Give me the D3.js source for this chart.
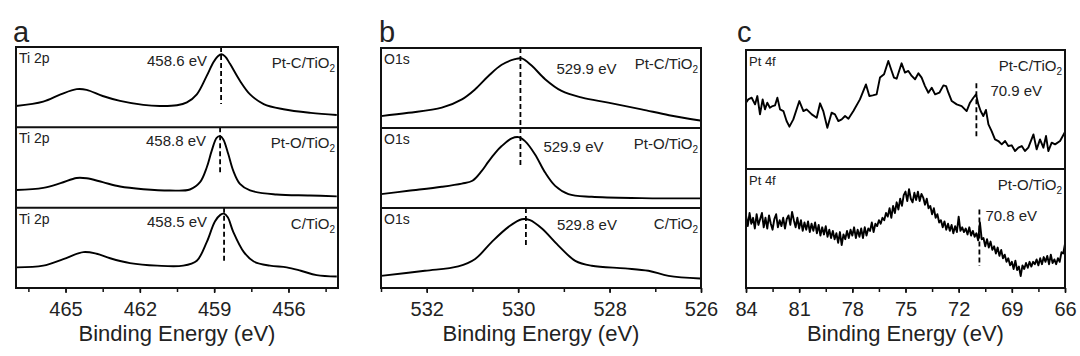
<!DOCTYPE html>
<html><head><meta charset="utf-8">
<script src="https://cdn.jsdelivr.net/npm/d3@7"></script>
<style>
body{margin:0;background:#fff}
svg{display:block}
text{font-family:"Liberation Sans",Arial,sans-serif;fill:#222}
</style>
</head><body>
<svg id="chart" width="1080" height="356"></svg>
<script>
// ---------------- DATA ----------------
// Panel a: Ti 2p (binding energy eV, intensity a.u.)
const tiPtC_eV = [467.0,465.9,465.2,464.55,464.15,463.5,462.8,461.86,461.2,460.5,460.1,459.7,459.3,459.03,458.85,458.7,458.55,458.36,457.96,457.55,457.0,456.2,455.1,454.05];
const tiPtC_I  = [26.6,32,41,47.5,46.7,39,33,28,26.6,27.5,31,41,64,81,88.5,91,88,79,58,41,29,22.5,18,15.4];
const tiPtO_eV = [467.0,465.9,465.2,464.55,464.15,463.5,462.8,461.86,460.78,459.98,459.57,459.3,459.1,458.9,458.76,458.63,458.43,458.23,457.96,457.55,456.48,455.13,454.05];
const tiPtO_I  = [22,24.7,30.5,37,36.6,31.7,26.3,23,21.4,22.6,31.7,50,70.7,87,89,85,66.7,46,29.6,21.4,16.4,15.2,14];
const tiC_eV   = [466.97,465.9,465.09,464.28,463.74,463.2,462.4,461.3,460.25,459.7,459.3,458.97,458.75,458.6,458.45,458.23,457.8,457.4,456.75,456.07,455.5,454.86,454.05];
const tiC_I    = [25.7,27.8,36,44.7,42.6,37,31,27.8,27.8,34,57,82.7,91,92.5,88,70,44.7,33,27.8,25.7,21.5,16,14.3];

// Panel b: O 1s
const oPtC_eV = [533,532.4,531.67,531.23,530.94,530.65,530.36,530.07,529.92,529.7,529.41,529.05,528.6,528.03,527.3,526.7,526.02];
const oPtC_I  = [14.9,19,25.4,35.8,48.4,65,79,86,87,77.7,61,46.3,38,31.7,23.3,16,9.4];
const oPtO_eV = [533,532.4,531.67,531.23,531.0,530.8,530.65,530.5,530.36,530.14,529.99,529.85,529.63,529.41,529.19,528.9,528.39,527.3,526.02];
const oPtO_I  = [17.4,21.5,26.5,30.5,34,46,58,69,77.4,87,88.6,83.6,67,44.3,27.7,17.4,14,12.4,12];
const oC_eV   = [533,532.04,531.31,530.94,530.58,530.21,529.92,529.74,529.48,529.12,528.75,528.39,527.66,527.15,526.71,526.02];
const oC_I    = [15.2,21.5,27,36.3,57.4,76.4,86,84.8,74.3,53,34,27.8,24.5,21.5,15.2,11.8];

// Panel c: Pt 4f
const ptPtC_eV = [84.00,83.87,83.68,83.49,83.36,83.21,83.06,82.93,82.80,82.65,82.50,82.36,82.23,82.08,81.89,81.71,81.55,81.33,80.99,80.76,80.58,80.29,80.01,79.82,79.64,79.41,79.17,78.98,78.79,78.60,78.41,78.22,77.94,77.57,77.23,77.04,76.85,76.63,76.44,76.21,75.97,75.78,75.65,75.50,75.22,75.03,74.84,74.65,74.46,74.27,74.09,73.90,73.71,73.52,73.33,73.09,72.86,72.71,72.58,72.39,72.11,71.83,71.55,71.36,71.17,71.02,70.89,70.76,70.61,70.46,70.32,70.14,69.95,69.76,69.57,69.38,69.20,69.01,68.82,68.63,68.44,68.26,68.07,67.78,67.60,67.41,67.22,67.07,66.94,66.75,66.56,66.28,66.00];
const ptPtC_I  = [55.7,58.5,59.9,54.3,61.3,45.9,58.5,50.1,55.7,51.5,52.9,53.5,59.9,50.1,48.7,40.3,35.6,41.7,57.1,48.7,50.1,45.9,43.1,55.2,48.7,34.7,47.3,45.9,40.3,41.7,44.5,42.3,48.7,58.5,71.1,61.3,61.9,62.7,76.8,79.6,90.8,82.4,76.8,75.9,88.8,81.0,82.4,78.2,75.4,80.4,76.8,69.7,64.1,68.3,62.7,64.1,70.3,69.7,64.1,57.1,54.3,52.9,48.7,55.7,59.9,62.7,54.3,48.7,44.5,49.6,37.5,31.9,24.9,23.5,20.7,23.5,19.3,19.9,15.1,17.9,19.3,15.1,17.9,29.1,16.5,24.9,17.9,27.7,15.1,22.1,20.7,23.5,31.1];
// Pt-O/TiO2: 0.1 eV steps from 84.0 eV down to 66.0 eV
const ptPtO_start = 84.0, ptPtO_step = 0.1;
const ptPtO_I = [
 61,52,63,54,59,50,62,53,58,63,
 51,59,50,61,54,49,58,62,51,57,
 52,59,50,58,61,53,64,57,51,59,
 50,57,48,55,49,56,47,54,48,55,
 46,53,44,51,45,52,43,49,42,48,
 41,46,38,47,36,45,41,48,42,49,
 44,51,42,49,43,50,42,51,44,50,
 48,55,47,54,52,57,54,59,57,63,
 60,67,59,69,63,72,66,75,69,78,
 81,73,83,75,72,80,74,81,73,79,
 76,70,75,67,69,62,67,59,62,55,
 57,51,56,49,54,48,53,46,52,47,
 60,48,51,47,50,45,51,44,48,43,
 46,40,55,41,42,35,41,34,39,32,
 35,29,34,27,32,25,28,22,25,19,
 22,16,23,15,18,10,19,16,21,17,
 22,18,22,20,24,19,25,20,26,22,
 27,20,28,21,24,20,25,22,30,29,
 37];
const ptPtO_eV = ptPtO_I.map((_, i) => +(ptPtO_start - i * ptPtO_step).toFixed(2));

// labels
const coreLevels = ["Ti 2p", "O1s", "Pt 4f"];
const samplesAB = ["Pt-C/TiO", "Pt-O/TiO", "C/TiO"];
const samplesC  = ["Pt-C/TiO", "Pt-O/TiO"];
const peakLabelsA = ["458.6 eV", "458.8 eV", "458.5 eV"];
const peakLabelsB = ["529.9 eV", "529.9 eV", "529.8 eV"];
const peakLabelsC = ["70.9 eV", "70.8 eV"];
const peakMarksA = [458.72, 458.76, 458.6];
const peakMarksB = [529.95, 529.95, 529.83];
const peakMarksC = [71.0, 70.83];
const markLowA = [29, 42, 34];
const markLowB = [0, 51, 51];
const markHighC = [72, 66];
const markLowC = [26, 18.5];
const ticksA = [465, 462, 459, 456];
const minorA = [466.5, 465, 463.5, 462, 460.5, 459, 457.5, 456, 454.5];
const ticksB = [532, 530, 528, 526];
const minorB = [533, 532, 531, 530, 529, 528, 527, 526];
const ticksC = [84, 81, 78, 75, 72, 69, 66];
const minorC = [84, 82.5, 81, 79.5, 78, 76.5, 75, 73.5, 72, 70.5, 69, 67.5, 66];
const axisTitle = "Binding Energy (eV)";
const letters = ["a", "b", "c"];

// ---------------- LAYOUT ----------------
const panels = [
  {letter: letters[0], lx: 13, x0: 16, x1: 338, top: 47, bottom: 288, domain: [467, 454],
   ticks: ticksA, minor: minorA, curve: d3.curveCatmullRom.alpha(0.5), sw: 1.9,
   rows: [
     {core: coreLevels[0], sample: samplesAB[0], peak: peakLabelsA[0], e: tiPtC_eV, v: tiPtC_I, mark: peakMarksA[0], lo: markLowA[0], hi: 100, pdx: -14, pdy: 19, anchor: "end"},
     {core: coreLevels[0], sample: samplesAB[1], peak: peakLabelsA[1], e: tiPtO_eV, v: tiPtO_I, mark: peakMarksA[1], lo: markLowA[1], hi: 100, pdx: -14, pdy: 19, anchor: "end"},
     {core: coreLevels[0], sample: samplesAB[2], peak: peakLabelsA[2], e: tiC_eV, v: tiC_I, mark: peakMarksA[2], lo: markLowA[2], hi: 100, pdx: -17, pdy: 19, anchor: "end"}
   ]},
  {letter: letters[1], lx: 379, x0: 381, x1: 701, top: 48, bottom: 288, domain: [533, 526],
   ticks: ticksB, minor: minorB, curve: d3.curveCatmullRom.alpha(0.5), sw: 1.9,
   rows: [
     {core: coreLevels[1], sample: samplesAB[0], peak: peakLabelsB[0], e: oPtC_eV, v: oPtC_I, mark: peakMarksB[0], lo: markLowB[0], hi: 100, pdx: 36, pdy: 26, anchor: "start"},
     {core: coreLevels[1], sample: samplesAB[1], peak: peakLabelsB[1], e: oPtO_eV, v: oPtO_I, mark: peakMarksB[1], lo: markLowB[1], hi: 100, pdx: 23, pdy: 24, anchor: "start"},
     {core: coreLevels[1], sample: samplesAB[2], peak: peakLabelsB[2], e: oC_eV, v: oC_I, mark: peakMarksB[2], lo: markLowB[2], hi: 100, pdx: 31, pdy: 22, anchor: "start"}
   ]},
  {letter: letters[2], lx: 737, x0: 746, x1: 1065, top: 50, bottom: 288, domain: [84, 66],
   ticks: ticksC, minor: minorC, curve: d3.curveLinear, sw: 1.9,
   rows: [
     {core: coreLevels[2], sample: samplesC[0], peak: peakLabelsC[0], e: ptPtC_eV, v: ptPtC_I, mark: peakMarksC[0], lo: markLowC[0], hi: markHighC[0], pdx: 14, pdy: 46, anchor: "start"},
     {core: coreLevels[2], sample: samplesC[1], peak: peakLabelsC[1], e: ptPtO_eV, v: ptPtO_I, mark: peakMarksC[1], lo: markLowC[1], hi: markHighC[1], pdx: 6, pdy: 52, anchor: "start"}
   ]}
];

const svg = d3.select("#chart");
const INK = "#111";

panels.forEach(p => {
  const x = d3.scaleLinear().domain(p.domain).range([p.x0, p.x1]);
  const n = p.rows.length;
  const h = (p.bottom - p.top) / n;
  const g = svg.append("g");

  p.rows.forEach((r, i) => {
    const t = p.top + i * h, b = t + h;
    const y = d3.scaleLinear().domain([0, 100]).range([b, t]);
    const pts = r.e.map((e, k) => [e, r.v[k]]);
    g.append("path")
      .attr("d", d3.line().x(d => x(d[0])).y(d => y(d[1])).curve(p.curve)(pts))
      .attr("fill", "none").attr("stroke", "#000")
      .attr("stroke-width", p.sw).attr("stroke-linejoin", "round");
    g.append("line")
      .attr("x1", x(r.mark)).attr("x2", x(r.mark))
      .attr("y1", y(r.hi)).attr("y2", y(r.lo))
      .attr("stroke", "#000").attr("stroke-width", 1.8)
      .attr("stroke-dasharray", "5,3");
    g.append("text").attr("x", p.x0 + 3).attr("y", t + 16)
      .attr("font-size", p.letter === "c" ? 13 : 14).text(r.core);
    const st = g.append("text").attr("x", p.x1 - 3).attr("y", t + 21)
      .attr("text-anchor", "end").attr("font-size", 15);
    st.append("tspan").text(r.sample);
    st.append("tspan").attr("font-size", 10).attr("dy", 4).text("2");
    g.append("text").attr("x", x(r.mark) + r.pdx).attr("y", t + r.pdy)
      .attr("text-anchor", r.anchor).attr("font-size", 15).text(r.peak);
  });

  // frame and dividers
  g.append("rect").attr("x", p.x0).attr("y", p.top)
    .attr("width", p.x1 - p.x0).attr("height", p.bottom - p.top)
    .attr("fill", "none").attr("stroke", INK).attr("stroke-width", 2);
  for (let i = 1; i < n; i++) {
    g.append("line").attr("x1", p.x0).attr("x2", p.x1)
      .attr("y1", p.top + i * h).attr("y2", p.top + i * h)
      .attr("stroke", INK).attr("stroke-width", 2);
  }

  // axes
  const minorAx = g.append("g").attr("transform", `translate(0,${p.bottom})`)
    .call(d3.axisBottom(x).tickValues(p.minor).tickSize(4).tickFormat(""));
  minorAx.select(".domain").remove();
  minorAx.selectAll("line").attr("stroke", INK).attr("stroke-width", 1.5);
  const ax = g.append("g").attr("transform", `translate(0,${p.bottom})`)
    .call(d3.axisBottom(x).tickValues(p.ticks).tickSize(5).tickPadding(9).tickFormat(d3.format("d")));
  ax.select(".domain").remove();
  ax.selectAll("line").attr("stroke", INK).attr("stroke-width", 1.5);
  ax.selectAll("text").attr("font-size", 20).attr("fill", "#222")
    .attr("font-family", "'Liberation Sans', Arial, sans-serif");

  g.append("text").attr("x", (p.x0 + p.x1) / 2).attr("y", 341)
    .attr("text-anchor", "middle").attr("font-size", 22).text(axisTitle);
  g.append("text").attr("x", p.lx).attr("y", 42)
    .attr("font-size", 29).attr("fill", "#000").text(p.letter);
});
</script>
</body></html>
